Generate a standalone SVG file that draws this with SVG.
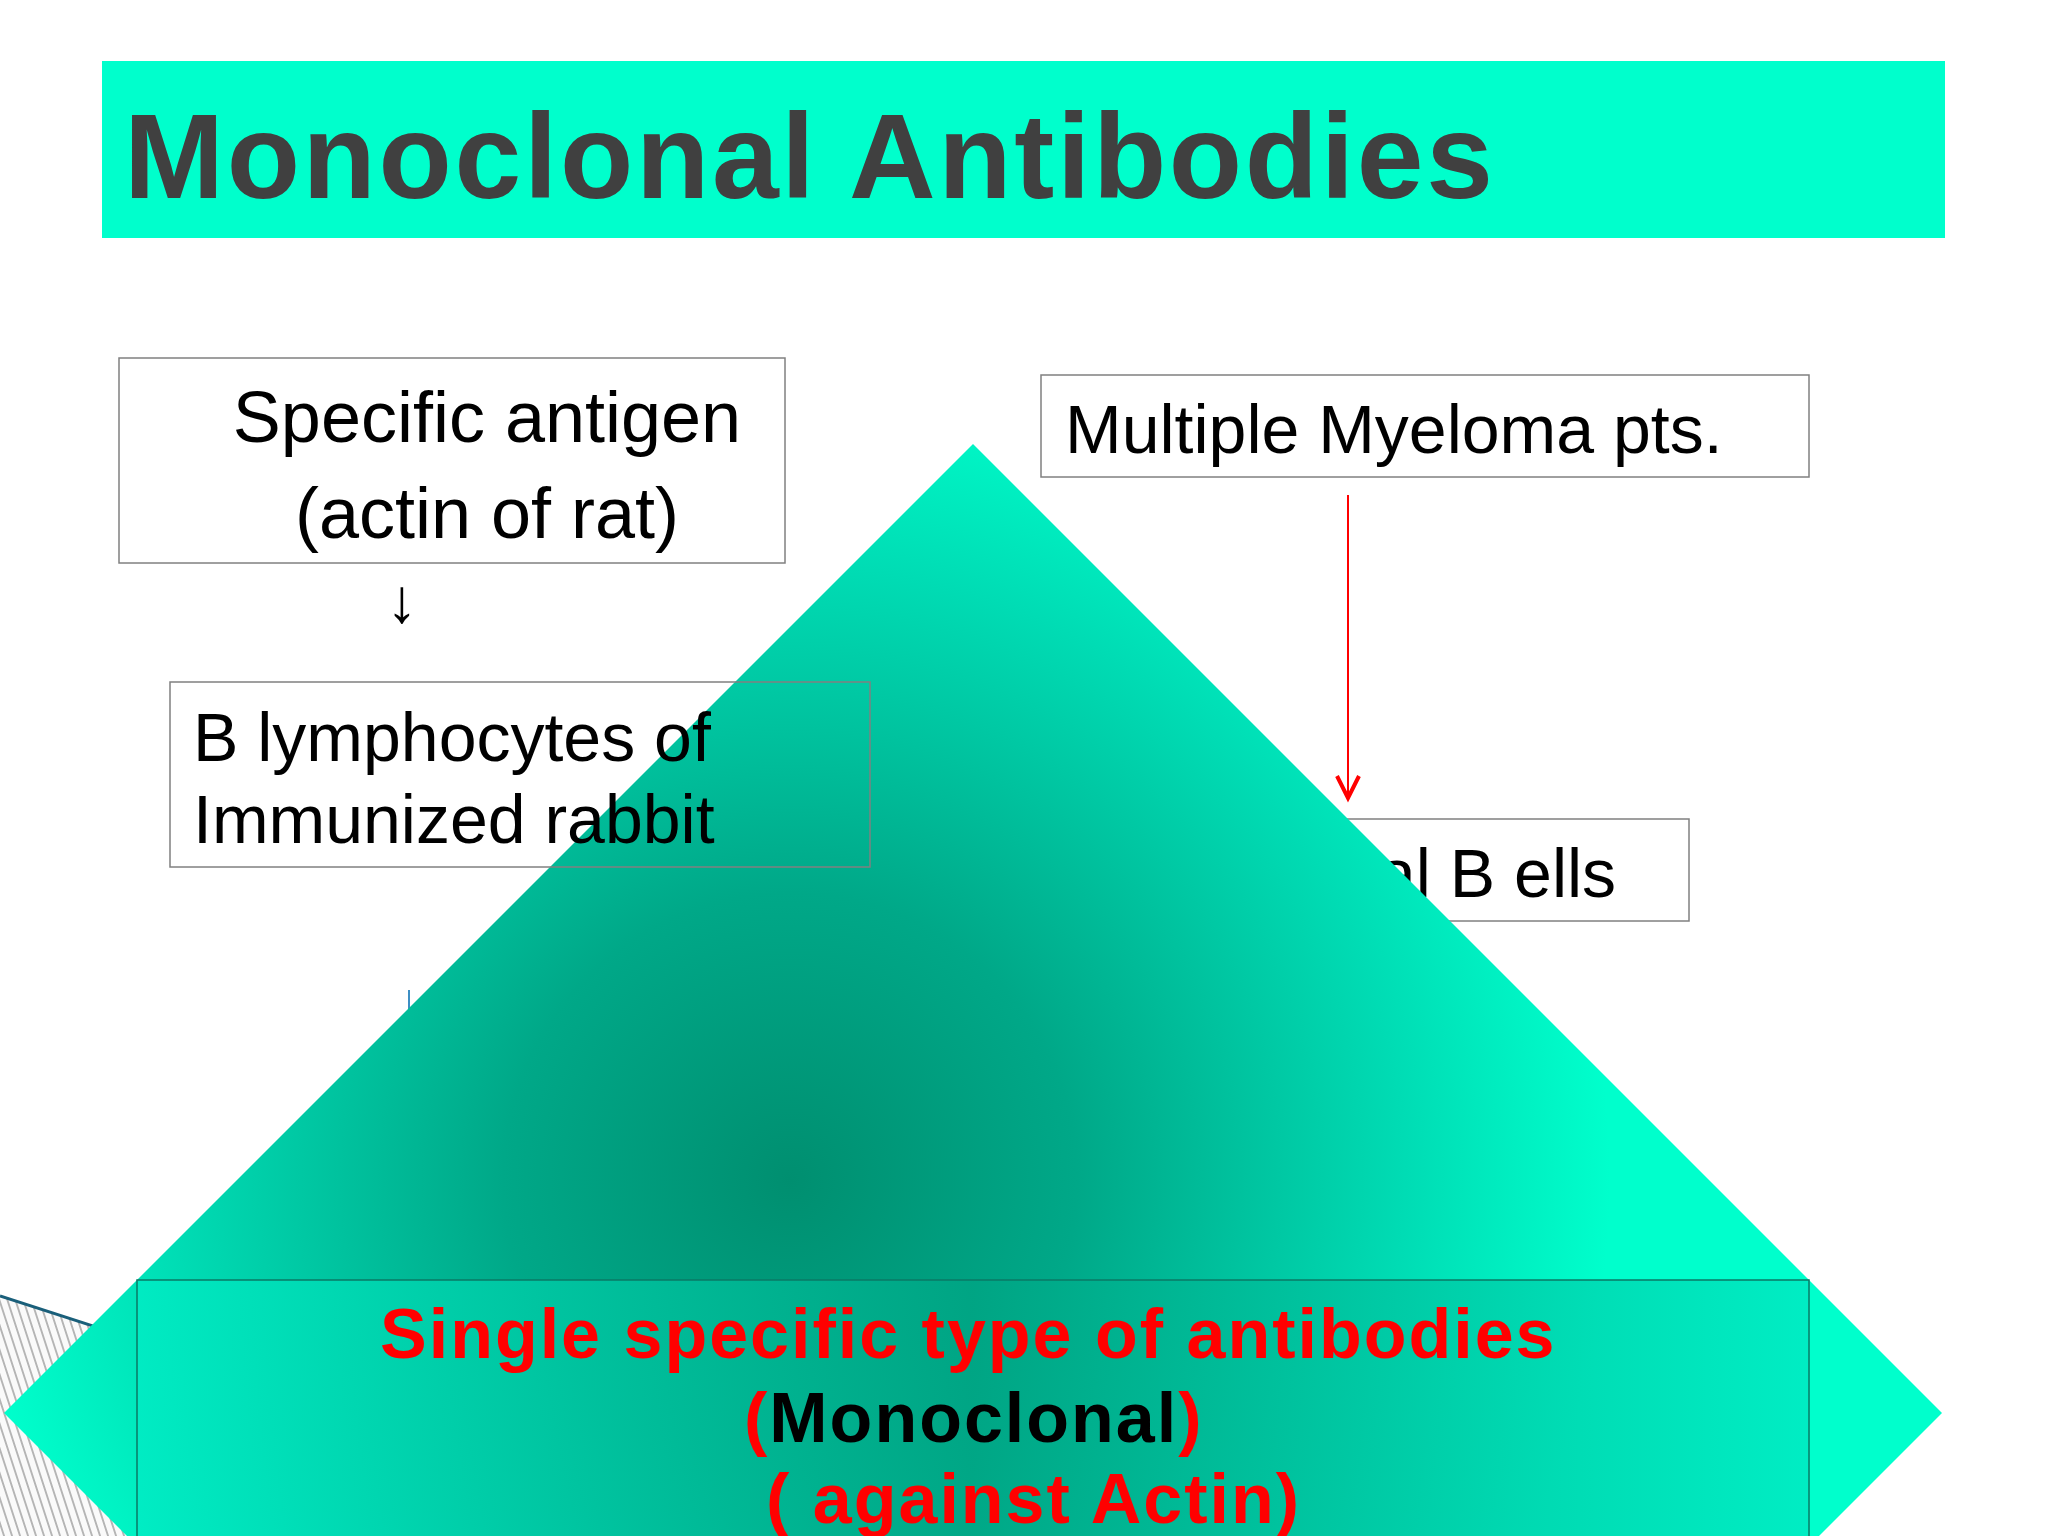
<svg xmlns="http://www.w3.org/2000/svg" width="2048" height="1536" viewBox="0 0 2048 1536">
<defs>
<style>
.box{fill:#ffffff;stroke:#808080;stroke-width:1.5}
.boxt{fill:none;stroke:#808080;stroke-width:1.5}
.t{font-family:"Liberation Sans",Arial,sans-serif;fill:#000000}
.b{font-family:"Liberation Sans",Arial,sans-serif;font-weight:bold;letter-spacing:2px}
</style>
<radialGradient id="dg" gradientUnits="userSpaceOnUse" cx="790" cy="1180" r="820">
<stop offset="0" stop-color="#008f70"/>
<stop offset="0.35" stop-color="#00a888"/>
<stop offset="0.75" stop-color="#00dcb4"/>
<stop offset="1" stop-color="#00ffcc"/>
</radialGradient>
<linearGradient id="bg" x1="0" y1="0" x2="1" y2="0">
<stop offset="0" stop-color="#00ecc4"/>
<stop offset="0.5" stop-color="#00a584"/>
<stop offset="1" stop-color="#00eac2"/>
</linearGradient>
<pattern id="hatch" patternUnits="userSpaceOnUse" width="8" height="24" patternTransform="skewX(18)">
<rect width="8" height="24" fill="#fafafa"/>
<line x1="1" y1="0" x2="1" y2="24" stroke="#707070" stroke-width="1"/>
</pattern>
<marker id="vhead" markerUnits="userSpaceOnUse" markerWidth="30" markerHeight="30" refX="24" refY="15" orient="auto">
<path d="M2 4 L24 15 L2 26" fill="none" stroke="#ff0000" stroke-width="4"/>
</marker>
</defs>

<rect width="2048" height="1536" fill="#ffffff"/>

<g id="title">
<rect x="102" y="61" width="1843" height="177" fill="#00ffcc"/>
<text x="124" y="198" font-family="'Liberation Sans',Arial,sans-serif" font-weight="bold" font-size="120" fill="#404040" textLength="1369" lengthAdjust="spacing">Monoclonal Antibodies</text>
</g>

<g id="node-antigen">
<rect class="box" x="119" y="358" width="666" height="205"/>
<text class="t" x="487" y="442" font-size="72" text-anchor="middle">Specific antigen</text>
<text class="t" x="487" y="538" font-size="72" text-anchor="middle">(actin of rat)</text>
</g>

<g id="node-myeloma">
<rect class="box" x="1041" y="375" width="768" height="102"/>
<text class="t" x="1065" y="453" font-size="68">Multiple Myeloma pts.</text>
</g>

<g id="node-bcells">
<rect class="box" x="1250" y="819" width="439" height="102"/>
<text class="t" x="1378" y="897" font-size="68">al B ells</text>
</g>

<g id="connectors">
<text x="402" y="622" font-family="'Liberation Sans',Arial,sans-serif" font-size="62" text-anchor="middle" fill="#000000">↓</text>
<line x1="1348" y1="495" x2="1348" y2="798" stroke="#ff0000" stroke-width="2" marker-end="url(#vhead)"/>
<line x1="409" y1="990" x2="409" y2="1030" stroke="#3d8fc4" stroke-width="2"/>
</g>

<g id="hatch-area">
<polygon points="0,1296 600,1490 600,1536 0,1536" fill="url(#hatch)"/>
<line x1="0" y1="1296" x2="600" y2="1490" stroke="#1a5f7a" stroke-width="3"/>
</g>

<g id="diamond">
<polygon points="973,444 1942,1413 973,2382 4,1413" fill="url(#dg)"/>
</g>

<g id="node-lymphocytes">
<rect class="boxt" x="170" y="682" width="700" height="185"/>
<text class="t" x="193" y="761" font-size="68">B lymphocytes of</text>
<text class="t" x="193" y="843" font-size="68">Immunized rabbit</text>
</g>

<g id="node-result">
<rect x="137" y="1280" width="1672" height="300" fill="url(#bg)" fill-opacity="0.85" stroke="#0a7a66" stroke-width="1.5"/>
<text class="b" x="380" y="1358" font-size="70" fill="#ff0000">Single specific type of antibodies</text>
<text class="b" x="744" y="1442" font-size="70" fill="#ff0000">(<tspan fill="#000000">Monoclonal</tspan>)</text>
<text class="b" x="766" y="1523" font-size="70" fill="#ff0000">( against Actin)</text>
</g>
</svg>
